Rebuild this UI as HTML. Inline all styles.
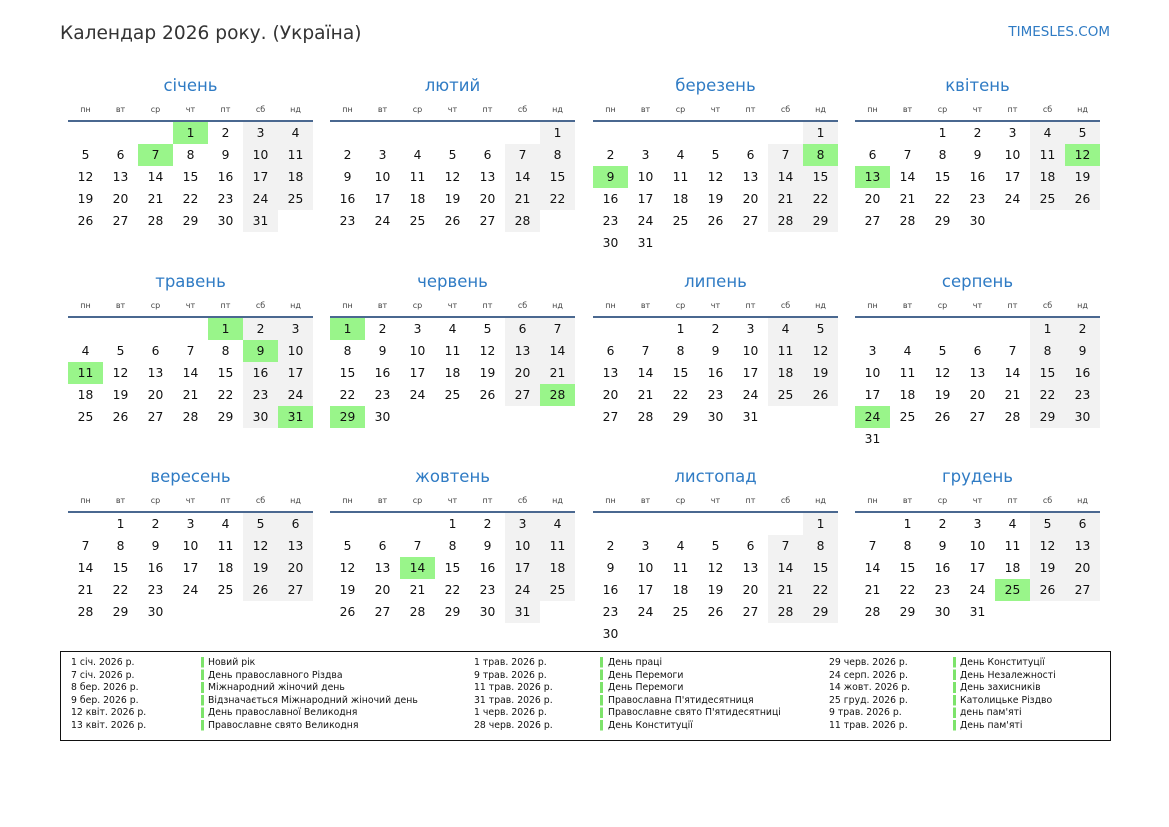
<!DOCTYPE html>
<html><head><meta charset="utf-8"><style>
*{margin:0;padding:0;box-sizing:border-box}
body{width:1169px;height:827px;background:#fff;position:relative;font-family:"DejaVu Sans","Liberation Sans",sans-serif;color:#111;overflow:hidden}
.ttl{position:absolute;left:60px;top:21px;font-size:18.6px;color:#333;line-height:26px}
.site{position:absolute;right:59px;top:23px;font-size:13.5px;color:#2f7bc4;line-height:18px}
.m{position:absolute;width:245px;height:190px}
.m h2{position:absolute;left:0;top:0;width:245px;text-align:center;font-weight:normal;font-size:16.5px;color:#2f7bc4;line-height:26px}
.hd{position:absolute;left:0;top:30px;width:245px;display:flex;font-size:8px;color:#444;line-height:14px}
.hd span{width:35px;text-align:center}
.ln{position:absolute;left:0;top:47px;width:245px;height:2px;background:#4a6890}
.g{position:absolute;left:0;top:49px;width:245px;display:grid;grid-template-columns:repeat(7,35px);grid-auto-rows:22px;font-size:12.3px}
.g span{text-align:center;line-height:22px}
.g span:nth-child(7n+6),.g span:nth-child(7n){background:#f2f2f2}
.g span.e{background:transparent!important}
.g span.h{background:#99f58a!important}
.leg{position:absolute;left:60px;top:651px;width:1051px;height:90px;border:1px solid #111}
.lc{position:absolute;top:5px;font-size:9.3px;line-height:12.6px;color:#111;white-space:nowrap}
.bar{position:absolute;top:5px;width:3px;height:75px;background:repeating-linear-gradient(#7de36b 0 10.6px,transparent 10.6px 12.6px)}
</style></head><body>
<div class="ttl">Календар 2026 року. (Україна)</div>
<div class="site">TIMESLES.COM</div>

<div class="m" style="left:68px;top:73px"><h2>січень</h2><div class="hd"><span>пн</span><span>вт</span><span>ср</span><span>чт</span><span>пт</span><span>сб</span><span>нд</span></div><div class="ln"></div><div class="g"><span class="e"></span><span class="e"></span><span class="e"></span><span class="h">1</span><span>2</span><span>3</span><span>4</span><span>5</span><span>6</span><span class="h">7</span><span>8</span><span>9</span><span>10</span><span>11</span><span>12</span><span>13</span><span>14</span><span>15</span><span>16</span><span>17</span><span>18</span><span>19</span><span>20</span><span>21</span><span>22</span><span>23</span><span>24</span><span>25</span><span>26</span><span>27</span><span>28</span><span>29</span><span>30</span><span>31</span></div></div>

<div class="m" style="left:330px;top:73px"><h2>лютий</h2><div class="hd"><span>пн</span><span>вт</span><span>ср</span><span>чт</span><span>пт</span><span>сб</span><span>нд</span></div><div class="ln"></div><div class="g"><span class="e"></span><span class="e"></span><span class="e"></span><span class="e"></span><span class="e"></span><span class="e"></span><span>1</span><span>2</span><span>3</span><span>4</span><span>5</span><span>6</span><span>7</span><span>8</span><span>9</span><span>10</span><span>11</span><span>12</span><span>13</span><span>14</span><span>15</span><span>16</span><span>17</span><span>18</span><span>19</span><span>20</span><span>21</span><span>22</span><span>23</span><span>24</span><span>25</span><span>26</span><span>27</span><span>28</span></div></div>

<div class="m" style="left:593px;top:73px"><h2>березень</h2><div class="hd"><span>пн</span><span>вт</span><span>ср</span><span>чт</span><span>пт</span><span>сб</span><span>нд</span></div><div class="ln"></div><div class="g"><span class="e"></span><span class="e"></span><span class="e"></span><span class="e"></span><span class="e"></span><span class="e"></span><span>1</span><span>2</span><span>3</span><span>4</span><span>5</span><span>6</span><span>7</span><span class="h">8</span><span class="h">9</span><span>10</span><span>11</span><span>12</span><span>13</span><span>14</span><span>15</span><span>16</span><span>17</span><span>18</span><span>19</span><span>20</span><span>21</span><span>22</span><span>23</span><span>24</span><span>25</span><span>26</span><span>27</span><span>28</span><span>29</span><span>30</span><span>31</span></div></div>

<div class="m" style="left:855px;top:73px"><h2>квітень</h2><div class="hd"><span>пн</span><span>вт</span><span>ср</span><span>чт</span><span>пт</span><span>сб</span><span>нд</span></div><div class="ln"></div><div class="g"><span class="e"></span><span class="e"></span><span>1</span><span>2</span><span>3</span><span>4</span><span>5</span><span>6</span><span>7</span><span>8</span><span>9</span><span>10</span><span>11</span><span class="h">12</span><span class="h">13</span><span>14</span><span>15</span><span>16</span><span>17</span><span>18</span><span>19</span><span>20</span><span>21</span><span>22</span><span>23</span><span>24</span><span>25</span><span>26</span><span>27</span><span>28</span><span>29</span><span>30</span></div></div>

<div class="m" style="left:68px;top:269px"><h2>травень</h2><div class="hd"><span>пн</span><span>вт</span><span>ср</span><span>чт</span><span>пт</span><span>сб</span><span>нд</span></div><div class="ln"></div><div class="g"><span class="e"></span><span class="e"></span><span class="e"></span><span class="e"></span><span class="h">1</span><span>2</span><span>3</span><span>4</span><span>5</span><span>6</span><span>7</span><span>8</span><span class="h">9</span><span>10</span><span class="h">11</span><span>12</span><span>13</span><span>14</span><span>15</span><span>16</span><span>17</span><span>18</span><span>19</span><span>20</span><span>21</span><span>22</span><span>23</span><span>24</span><span>25</span><span>26</span><span>27</span><span>28</span><span>29</span><span>30</span><span class="h">31</span></div></div>

<div class="m" style="left:330px;top:269px"><h2>червень</h2><div class="hd"><span>пн</span><span>вт</span><span>ср</span><span>чт</span><span>пт</span><span>сб</span><span>нд</span></div><div class="ln"></div><div class="g"><span class="h">1</span><span>2</span><span>3</span><span>4</span><span>5</span><span>6</span><span>7</span><span>8</span><span>9</span><span>10</span><span>11</span><span>12</span><span>13</span><span>14</span><span>15</span><span>16</span><span>17</span><span>18</span><span>19</span><span>20</span><span>21</span><span>22</span><span>23</span><span>24</span><span>25</span><span>26</span><span>27</span><span class="h">28</span><span class="h">29</span><span>30</span></div></div>

<div class="m" style="left:593px;top:269px"><h2>липень</h2><div class="hd"><span>пн</span><span>вт</span><span>ср</span><span>чт</span><span>пт</span><span>сб</span><span>нд</span></div><div class="ln"></div><div class="g"><span class="e"></span><span class="e"></span><span>1</span><span>2</span><span>3</span><span>4</span><span>5</span><span>6</span><span>7</span><span>8</span><span>9</span><span>10</span><span>11</span><span>12</span><span>13</span><span>14</span><span>15</span><span>16</span><span>17</span><span>18</span><span>19</span><span>20</span><span>21</span><span>22</span><span>23</span><span>24</span><span>25</span><span>26</span><span>27</span><span>28</span><span>29</span><span>30</span><span>31</span></div></div>

<div class="m" style="left:855px;top:269px"><h2>серпень</h2><div class="hd"><span>пн</span><span>вт</span><span>ср</span><span>чт</span><span>пт</span><span>сб</span><span>нд</span></div><div class="ln"></div><div class="g"><span class="e"></span><span class="e"></span><span class="e"></span><span class="e"></span><span class="e"></span><span>1</span><span>2</span><span>3</span><span>4</span><span>5</span><span>6</span><span>7</span><span>8</span><span>9</span><span>10</span><span>11</span><span>12</span><span>13</span><span>14</span><span>15</span><span>16</span><span>17</span><span>18</span><span>19</span><span>20</span><span>21</span><span>22</span><span>23</span><span class="h">24</span><span>25</span><span>26</span><span>27</span><span>28</span><span>29</span><span>30</span><span>31</span></div></div>

<div class="m" style="left:68px;top:464px"><h2>вересень</h2><div class="hd"><span>пн</span><span>вт</span><span>ср</span><span>чт</span><span>пт</span><span>сб</span><span>нд</span></div><div class="ln"></div><div class="g"><span class="e"></span><span>1</span><span>2</span><span>3</span><span>4</span><span>5</span><span>6</span><span>7</span><span>8</span><span>9</span><span>10</span><span>11</span><span>12</span><span>13</span><span>14</span><span>15</span><span>16</span><span>17</span><span>18</span><span>19</span><span>20</span><span>21</span><span>22</span><span>23</span><span>24</span><span>25</span><span>26</span><span>27</span><span>28</span><span>29</span><span>30</span></div></div>

<div class="m" style="left:330px;top:464px"><h2>жовтень</h2><div class="hd"><span>пн</span><span>вт</span><span>ср</span><span>чт</span><span>пт</span><span>сб</span><span>нд</span></div><div class="ln"></div><div class="g"><span class="e"></span><span class="e"></span><span class="e"></span><span>1</span><span>2</span><span>3</span><span>4</span><span>5</span><span>6</span><span>7</span><span>8</span><span>9</span><span>10</span><span>11</span><span>12</span><span>13</span><span class="h">14</span><span>15</span><span>16</span><span>17</span><span>18</span><span>19</span><span>20</span><span>21</span><span>22</span><span>23</span><span>24</span><span>25</span><span>26</span><span>27</span><span>28</span><span>29</span><span>30</span><span>31</span></div></div>

<div class="m" style="left:593px;top:464px"><h2>листопад</h2><div class="hd"><span>пн</span><span>вт</span><span>ср</span><span>чт</span><span>пт</span><span>сб</span><span>нд</span></div><div class="ln"></div><div class="g"><span class="e"></span><span class="e"></span><span class="e"></span><span class="e"></span><span class="e"></span><span class="e"></span><span>1</span><span>2</span><span>3</span><span>4</span><span>5</span><span>6</span><span>7</span><span>8</span><span>9</span><span>10</span><span>11</span><span>12</span><span>13</span><span>14</span><span>15</span><span>16</span><span>17</span><span>18</span><span>19</span><span>20</span><span>21</span><span>22</span><span>23</span><span>24</span><span>25</span><span>26</span><span>27</span><span>28</span><span>29</span><span>30</span></div></div>

<div class="m" style="left:855px;top:464px"><h2>грудень</h2><div class="hd"><span>пн</span><span>вт</span><span>ср</span><span>чт</span><span>пт</span><span>сб</span><span>нд</span></div><div class="ln"></div><div class="g"><span class="e"></span><span>1</span><span>2</span><span>3</span><span>4</span><span>5</span><span>6</span><span>7</span><span>8</span><span>9</span><span>10</span><span>11</span><span>12</span><span>13</span><span>14</span><span>15</span><span>16</span><span>17</span><span>18</span><span>19</span><span>20</span><span>21</span><span>22</span><span>23</span><span>24</span><span class="h">25</span><span>26</span><span>27</span><span>28</span><span>29</span><span>30</span><span>31</span></div></div>

<div class="leg">
<div class="lc" style="left:10px">1 січ. 2026 р.<br>7 січ. 2026 р.<br>8 бер. 2026 р.<br>9 бер. 2026 р.<br>12 квіт. 2026 р.<br>13 квіт. 2026 р.</div>
<div class="bar" style="left:140px"></div>
<div class="lc" style="left:147px">Новий рік<br>День православного Різдва<br>Міжнародний жіночий день<br>Відзначається Міжнародний жіночий день<br>День православної Великодня<br>Православне свято Великодня</div>
<div class="lc" style="left:413px">1 трав. 2026 р.<br>9 трав. 2026 р.<br>11 трав. 2026 р.<br>31 трав. 2026 р.<br>1 черв. 2026 р.<br>28 черв. 2026 р.</div>
<div class="bar" style="left:539px"></div>
<div class="lc" style="left:547px">День праці<br>День Перемоги<br>День Перемоги<br>Православна П'ятидесятниця<br>Православне свято П'ятидесятниці<br>День Конституції</div>
<div class="lc" style="left:768px">29 черв. 2026 р.<br>24 серп. 2026 р.<br>14 жовт. 2026 р.<br>25 груд. 2026 р.<br>9 трав. 2026 р.<br>11 трав. 2026 р.</div>
<div class="bar" style="left:892px"></div>
<div class="lc" style="left:899px">День Конституції<br>День Незалежності<br>День захисників<br>Католицьке Різдво<br>день пам'яті<br>День пам'яті</div>
</div>
</body></html>
